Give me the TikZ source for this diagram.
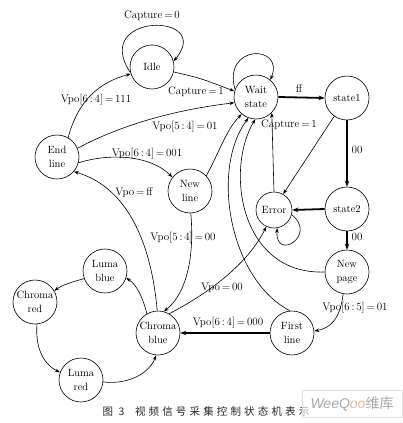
\documentclass[tikz,border=0pt]{standalone}
\usepackage{fontspec}
\newfontfamily\cjk[LetterSpace=30]{Noto Sans CJK SC}
\newfontfamily\cjkplain{Noto Sans CJK SC}
\newfontfamily\wmfont{Liberation Sans}
\usetikzlibrary{arrows.meta}
\definecolor{wmgray}{HTML}{A8A8A8}
\definecolor{wmorange}{HTML}{F0B488}
\begin{document}
\begin{tikzpicture}[x=1pt,y=-1pt,
  st/.style={circle,draw,line width=0.6pt,minimum size=44pt,inner sep=0pt,align=center,font=\fontsize{10.5}{14.5}\selectfont},
  lab/.style={font=\fontsize{11}{13}\selectfont,inner sep=1pt},
  ar/.style={line width=0.6pt,-{Stealth[length=5pt,width=3.5pt]}},
  thk/.style={line width=1.8pt,-{Stealth[length=6pt,width=4.5pt]}}]
\useasboundingbox (0,0) rectangle (403,423);
% states
\node[st] (idle) at (152,67) {Idle};
\node[st] (wait) at (256,97) {Wait\\state};
\node[st] (s1) at (347,98) {state1};
\node[st] (s2) at (347,209) {state2};
\node[st,minimum size=36pt] (err) at (274,210) {Error};
\node[st] (np) at (347,272) {New\\page};
\node[st] (fl) at (292,333) {First\\line};
\node[st] (cb) at (158,333) {Chroma\\blue};
\node[st] (lr) at (81,380) {Luma\\red};
\node[st] (cr) at (35,302) {Chroma\\red};
\node[st] (lb) at (105,271) {Luma\\blue};
\node[st] (el) at (57,157) {End\\line};
\node[st] (nl) at (190,191) {New\\line};
% connectors
\draw[ar] (idle.195) .. controls (90,12) and (215,12) .. (idle.15);
\draw[ar] (wait.160) .. controls (222,44) and (285,44) .. (wait.50);
\draw[ar] (idle.-13) .. controls (200,78) .. (wait.165);
\draw[ar] (el.60) .. controls (78,100) and (100,82) .. (idle.198);
\draw[ar] (el.23) .. controls (130,120) and (190,108) .. (wait.195);
\draw[ar] (el.-15) .. controls (110,153) and (150,155) .. (nl.142);
\draw[ar] (cb.92) .. controls (150,230) and (120,185) .. (el.-41);
\draw[ar] (nl.-88) .. controls (195,260) and (185,295) .. (cb.75);
\draw[ar] (nl.43) .. controls (218,155) and (226,130) .. (wait.230);
\draw[ar] (fl.95) .. controls (230,280) and (210,170) .. (wait.250);
\draw[ar] (np.180) .. controls (240,275) and (225,170) .. (wait.268);
\draw[ar] (err.north) -- (wait.-45);
\draw[thk] (wait.east) -- (s1.west);
\draw[thk] (s1) -- (s2);
\draw[ar] (s1.235) -- (err.60);
\draw[thk] (s2.west) -- (err.east);
\draw[ar] (err.-15) .. controls (318,235) and (275,262) .. (err.-80);
\draw[thk] (s2) -- (np);
\draw[ar] (np.-100) .. controls (340,320) and (330,328) .. (fl.5);
\draw[thk] (fl) -- (cb);
\draw[ar] (cb.60) .. controls (215,290) and (250,260) .. (err.245);
\draw[ar] (cb.120) .. controls (143,298) and (137,285) .. (lb.-18);
\draw[ar] (lb.200) .. controls (72,282) and (62,285) .. (cr.30);
\draw[ar] (cr.-85) .. controls (35,350) and (45,365) .. (lr.160);
\draw[ar] (lr.-5) .. controls (130,385) and (150,372) .. (cb.-95);
% labels
\node[lab] (l1) at (152,16) {Capture\,=\,0};
\node[lab] (l2) at (196,92) {Capture\,=\,1};
\node[lab] (l3) at (96,100) {Vpo[6\,:\,4]\,=\,111};
\node[lab] (l4) at (185,127) {Vpo[5\,:\,4]\,=\,01};
\node[lab] (l5) at (147,154) {Vpo[6\,:\,4]\,=\,001};
\node[lab] (l6) at (134,193) {Vpo\,=\,ff};
\node[lab] (l7) at (183,238) {Vpo[5\,:\,4]\,=\,00};
\node[lab] (l8) at (222,288) {Vpo\,=\,00};
\node[lab] (l9) at (228,323) {Vpo[6\,:\,4]\,=\,000};
\node[lab] (l10) at (355,308) {Vpo[6\,:\,5]\,=\,01};
\node[lab] (l11) at (299,89) {ff};
\node[lab] (l12) at (357,150) {00};
\node[lab] (l13) at (357,237) {00};
\node[lab] (l14) at (289,125) {Capture\,=\,1};
% caption
\node[font=\cjk\fontsize{10.5}{12}\selectfont,text=black!85] (cap) at (206,412) {图 3\hspace{1em}视频信号采集控制状态机表示};
% watermark
\node[draw=black!12,fill=white,fill opacity=0.6,text opacity=1,minimum width=100pt,minimum height=27pt,inner sep=0pt] (wm) at (352,404)
 {\wmfont\itshape\fontsize{14}{14}\selectfont\textcolor{wmgray}{WeeQ}\textcolor{wmorange}{oo}\textcolor{wmgray}{\cjkplain\upshape 维库}};
\end{tikzpicture}
\end{document}
